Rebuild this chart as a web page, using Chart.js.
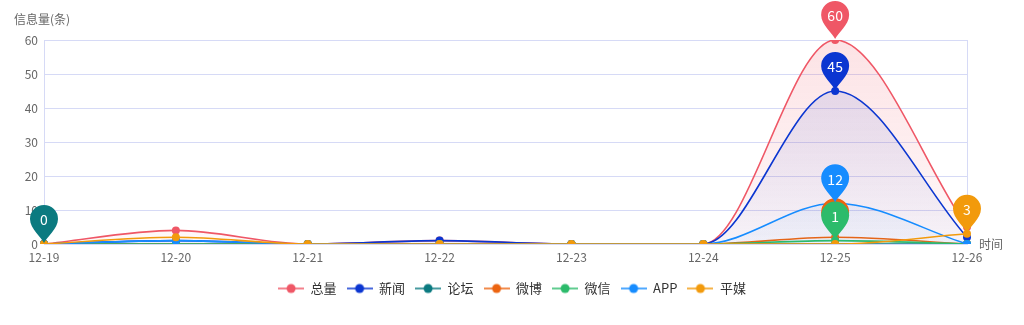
<!DOCTYPE html>
<html>
<head>
<meta charset="utf-8">
<script src="https://cdn.jsdelivr.net/npm/chart.js@4/dist/chart.umd.min.js"></script>
<style>
    body { margin: 0; background: #fff; }
    #wrap { width: 1024px; height: 325px; }
</style>
</head>
<body>
<div id="wrap"><canvas id="chart"></canvas></div>
<script>
const dates = ['12-19', '12-20', '12-21', '12-22', '12-23', '12-24', '12-25', '12-26'];
const seriesNames = ['总量', '新闻', '论坛', '微博', '微信', 'APP', '平媒'];
const seriesColors = ['#ef5766', '#0b36d1', '#0b7a80', '#ec6410', '#2cbb6b', '#168cff', '#f29a0c'];
const totalValues = [0, 4, 0, 1, 0, 0, 60, 5];
const newsValues = [0, 1, 0, 1, 0, 0, 45, 2];
const forumValues = [0, 0, 0, 0, 0, 0, 0, 0];
const weiboValues = [0, 0, 0, 0, 0, 0, 2, 0];
const wechatValues = [0, 0, 0, 0, 0, 0, 1, 0];
const appValues = [0, 1, 0, 0, 0, 0, 12, 0];
const printValues = [0, 2, 0, 0, 0, 0, 0, 3];
const yTicks = [0, 10, 20, 30, 40, 50, 60];
const allValues = [totalValues, newsValues, forumValues, weiboValues, wechatValues, appValues, printValues];
// which series get a shaded area, with top and bottom alpha
const areaAlpha = { 0: [0.17, 0.04], 1: [0.12, 0.03], 5: [0.16, 0.03] };

const font = '"Noto Sans CJK SC", "Noto Sans", sans-serif';

function hexToRgba (hex, a) {
    const n = parseInt(hex.slice(1), 16);
    return 'rgba(' + (n >> 16) + ',' + ((n >> 8) & 255) + ',' + (n & 255) + ',' + a + ')';
}

// small line + dot icon for the legend
function legendIcon (color) {
    const c = document.createElement('canvas');
    c.width = 26;
    c.height = 12;
    const g = c.getContext('2d');
    g.strokeStyle = color;
    g.lineWidth = 1.5;
    g.beginPath();
    g.moveTo(0, 6);
    g.lineTo(26, 6);
    g.stroke();
    g.fillStyle = color;
    g.beginPath();
    g.arc(13, 6, 4.5, 0, Math.PI * 2);
    g.fill();
    return c;
}
const icons = seriesColors.map(legendIcon);

const datasets = allValues.map((values, i) => {
    const color = seriesColors[i];
    const alpha = areaAlpha[i];
    return {
        label: seriesNames[i],
        data: values,
        borderColor: color,
        backgroundColor: alpha ? function (context) {
            const area = context.chart.chartArea;
            if (!area) return 'transparent';
            const grad = context.chart.ctx.createLinearGradient(0, area.top, 0, area.bottom);
            grad.addColorStop(0, hexToRgba(color, alpha[0]));
            grad.addColorStop(1, hexToRgba(color, alpha[1]));
            return grad;
        } : color,
        fill: alpha ? 'origin' : false,
        borderWidth: 1.6,
        pointRadius: 4,
        pointStyle: 'circle',
        pointBackgroundColor: color,
        pointBorderColor: color,
        pointBorderWidth: 0,
        cubicInterpolationMode: 'monotone',
        order: allValues.length - i
    };
});

// balloon pins on each series' max point, plus the axis names
const pinPlugin = {
    id: 'pins',
    afterDatasetsDraw (chart) {
        const ctx = chart.ctx;
        for (let i = 0; i < chart.data.datasets.length; i++) {
            const values = chart.data.datasets[i].data;
            let maxIdx = 0;
            values.forEach((v, k) => { if (v > values[maxIdx]) maxIdx = k; });
            const pt = chart.getDatasetMeta(i).data[maxIdx];
            const x = pt.x, y = pt.y;
            const r = 14;
            const cy = y - 25;
            ctx.save();
            ctx.fillStyle = seriesColors[i];
            ctx.beginPath();
            ctx.moveTo(x, y - 1);
            ctx.bezierCurveTo(x - 2, y - 6, x - r, cy + r * 0.7, x - r, cy);
            ctx.arc(x, cy, r, Math.PI, 0);
            ctx.bezierCurveTo(x + r, cy + r * 0.7, x + 2, y - 6, x, y - 1);
            ctx.fill();
            ctx.fillStyle = '#fff';
            ctx.font = '14px ' + font;
            ctx.textAlign = 'center';
            ctx.textBaseline = 'middle';
            ctx.fillText(String(values[maxIdx]), x, cy + 1);
            ctx.restore();
        }
        const area = chart.chartArea;
        ctx.save();
        ctx.fillStyle = '#666';
        ctx.font = '12px ' + font;
        ctx.textBaseline = 'middle';
        ctx.textAlign = 'left';
        ctx.fillText('信息量(条)', 14, 19);
        ctx.fillText('时间', area.right + 12, area.bottom);
        ctx.restore();
    }
};

const ctx = document.querySelector('#chart').getContext('2d');
const chart = new Chart(ctx, {
    type: 'line',
    data: {
        labels: dates,
        datasets: datasets
    },
    options: {
        responsive: true,
        maintainAspectRatio: false,
        animation: false,
        layout: { padding: { top: 40, right: 0, bottom: 20, left: 0 } },
        plugins: {
            tooltip: { enabled: false },
            legend: {
                position: 'bottom',
                labels: {
                    usePointStyle: true,
                    pointStyleWidth: 26,
                    boxHeight: 12,
                    padding: 10,
                    color: '#333',
                    font: { family: font, size: 13 },
                    sort: (a, b) => a.datasetIndex - b.datasetIndex,
                    generateLabels (chart) {
                        const items = Chart.defaults.plugins.legend.labels.generateLabels(chart);
                        items.forEach(item => { item.pointStyle = icons[item.datasetIndex]; });
                        return items;
                    }
                }
            }
        },
        scales: {
            x: {
                offset: false,
                grid: { display: false, drawTicks: false },
                border: { display: false },
                ticks: { color: '#666', padding: 6, font: { family: font, size: 12 }, maxRotation: 0, autoSkip: false },
                afterFit (scale) { scale.height = 28; }
            },
            y: {
                min: 0,
                max: 60,
                afterBuildTicks (scale) { scale.ticks = yTicks.map(v => ({ value: v })); },
                grid: { color: '#d6daf6', drawTicks: false, lineWidth: 1 },
                border: { display: true, color: '#d6daf6' },
                ticks: { color: '#666', padding: 6, font: { family: font, size: 12 } },
                afterFit (scale) { scale.width = 44; }
            },
            // empty right axis only to keep room for the "时间" name
            yRight: {
                position: 'right',
                min: 0,
                max: 60,
                grid: { display: false },
                border: { display: true, color: '#d6daf6' },
                ticks: { display: false },
                afterFit (scale) { scale.width = 57; }
            }
        }
    },
    plugins: [pinPlugin]
});
</script>
</body>
</html>
